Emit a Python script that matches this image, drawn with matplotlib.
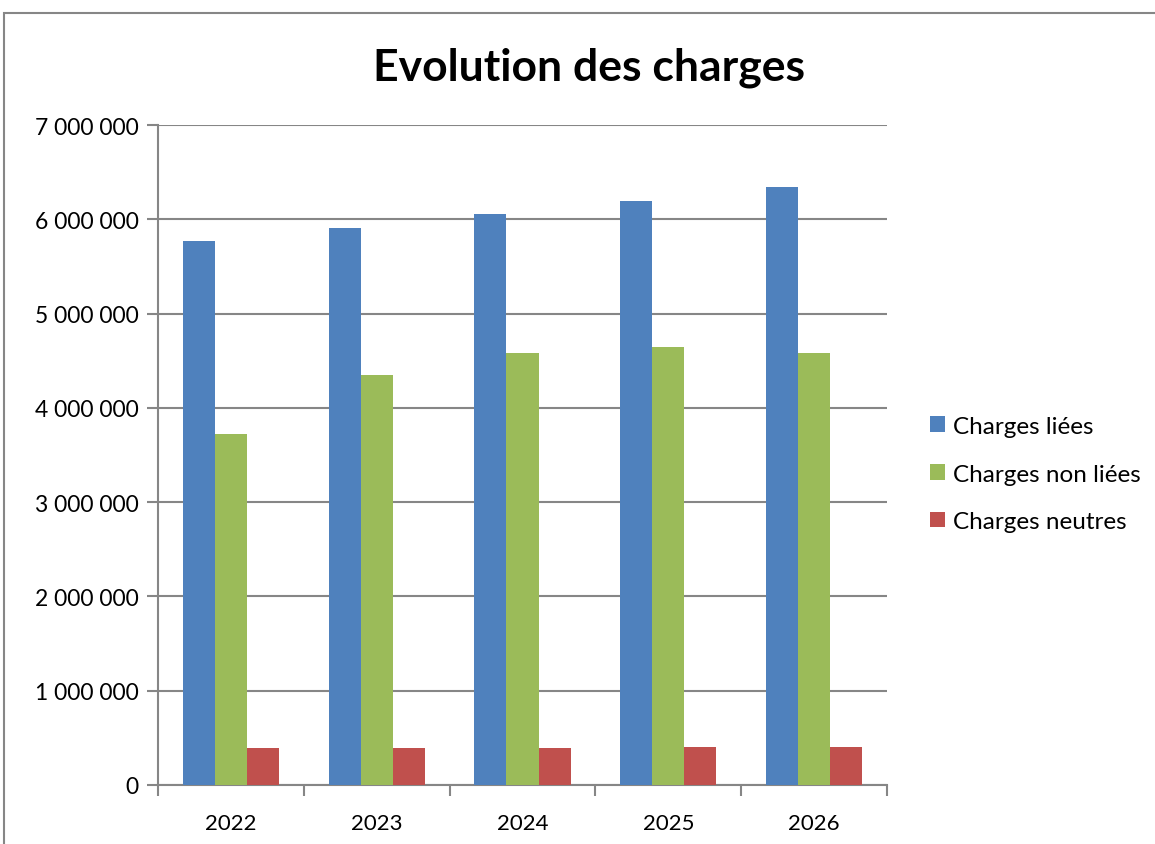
import numpy as np
import matplotlib
matplotlib.use('Agg')
import matplotlib.pyplot as plt
from matplotlib.patches import Rectangle
from matplotlib.ticker import FuncFormatter, FixedLocator

years = ['2022', '2023', '2024', '2025', '2026']
series_names = ['Charges liées', 'Charges non liées', 'Charges neutres']
charges_liees = [5770000, 5910000, 6060000, 6195000, 6340000]
charges_non_liees = [3725000, 4350000, 4580000, 4645000, 4585000]
charges_neutres = [390000, 393000, 396000, 400000, 404000]
COLORS = ['#4F81BD', '#9BBB59', '#C0504D']
GRID = '#868686'

plt.rcParams['font.family'] = ['Lato', 'DejaVu Sans']

W, H = 1155, 845
fig = plt.figure(figsize=(W / 100, H / 100), dpi=100)
ax = fig.add_axes([158 / W, 1 - 786 / H, (887 - 158) / W, (786 - 126) / H])

# outer chart frame (partly cut by the image edge)
fig.patches.append(Rectangle((4 / W, -0.1), 1.2, 1.1 - 14 / H,
                             transform=fig.transFigure, fill=False,
                             edgecolor=GRID, lw=1.5, zorder=0))

x = np.arange(len(years))
bw = 0.22
for i, (vals, name) in enumerate(zip([charges_liees, charges_non_liees, charges_neutres],
                                     series_names)):
    ax.bar(x + (i - 1) * bw, vals, width=bw, color=COLORS[i], label=name,
           zorder=3, linewidth=0)

ax.set_xlim(-0.5, len(years) - 0.5)
ax.set_ylim(0, 7000000)
ax.set_yticks(np.arange(0, 7000001, 1000000))
ax.yaxis.set_major_formatter(FuncFormatter(lambda v, p: f"{int(v):,}".replace(',', ' ')))
ax.set_xticks(x)
ax.set_xticklabels(years)
ax.xaxis.set_minor_locator(FixedLocator(np.arange(-0.5, len(years), 1.0)))
ax.tick_params(axis='x', which='major', length=0, labelsize=16, pad=20)
ax.tick_params(axis='x', which='minor', length=8, width=1.5, color=GRID)
ax.tick_params(axis='y', length=8, width=1.5, color=GRID, labelsize=16.5, pad=6)

ax.grid(axis='y', color=GRID, lw=1.5, zorder=0)
for s in ['top', 'right']:
    ax.spines[s].set_visible(False)
for s in ['left', 'bottom']:
    ax.spines[s].set_color(GRID)
    ax.spines[s].set_linewidth(1.5)

fig.text(589 / W, 1 - 68 / H, 'Evolution des charges', ha='center', va='center',
         fontsize=32, fontweight='bold')

ax.legend(loc='center left', bbox_to_anchor=(930 / W, 1 - 475 / H),
          bbox_transform=fig.transFigure, frameon=False, fontsize=17.5,
          borderpad=0, borderaxespad=0,
          handlelength=0.6, handleheight=0.6, handletextpad=0.33, labelspacing=1.1)

fig.savefig('out.png', dpi=100)
